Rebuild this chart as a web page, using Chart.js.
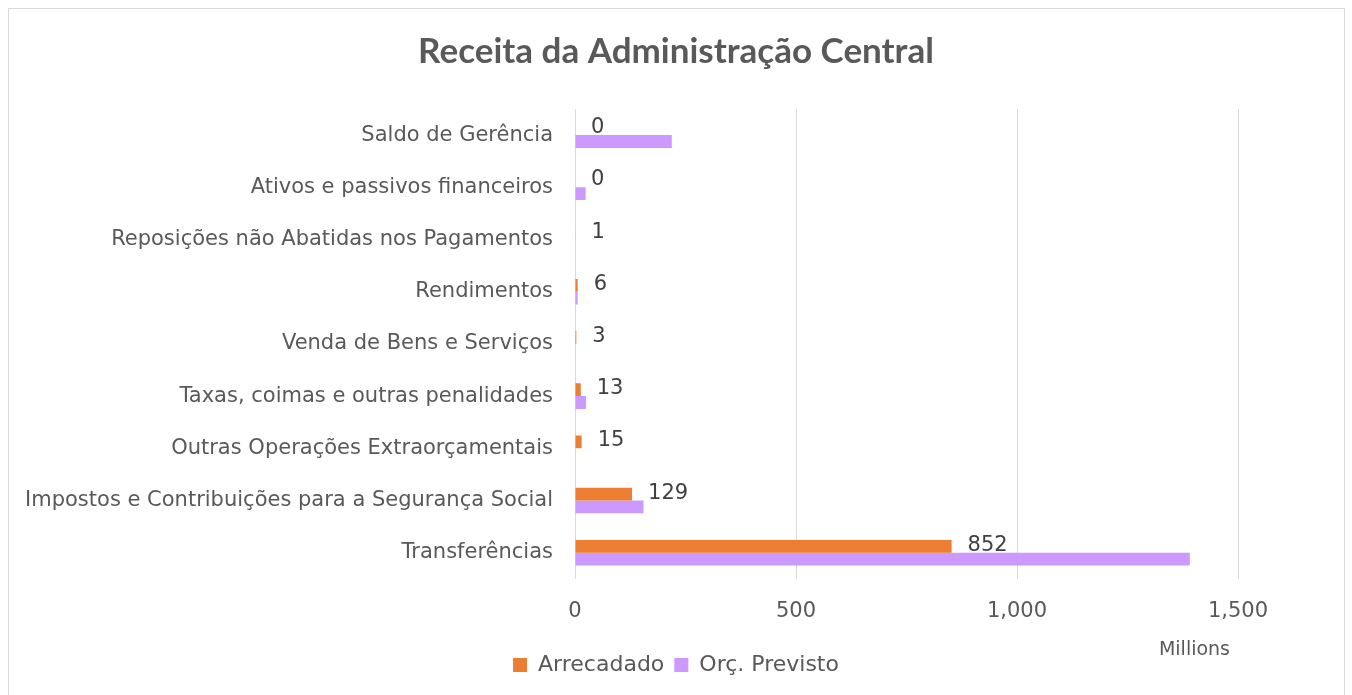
<!DOCTYPE html>
<html>
<head>
<meta charset="utf-8">
<script src="https://cdn.jsdelivr.net/npm/chart.js@4.4.1/dist/chart.umd.min.js"></script>
<style>
  html, body { margin: 0; padding: 0; background: #ffffff; }
  #wrap { width: 1352px; height: 695px; position: relative; }
</style>
</head>
<body>
<div id="wrap"><canvas id="chart" width="1352" height="695"></canvas></div>
<script>
const categories = [
    'Saldo de Gerência',
    'Ativos e passivos financeiros',
    'Reposições não Abatidas nos Pagamentos',
    'Rendimentos',
    'Venda de Bens e Serviços',
    'Taxas, coimas e outras penalidades',
    'Outras Operações Extraorçamentais',
    'Impostos e Contribuições para a Segurança Social',
    'Transferências'
]
// values in millions
const arrecadado = [0, 0, 1, 6, 3, 13, 15, 129, 852]
const previsto = [219, 24, 0, 6, 1, 25, 0, 155, 1391]
const xTicks = [0, 500, 1000, 1500]

const textColor = '#595959'
const fontFamily = "'DejaVu Sans', sans-serif"

// draws the Arrecadado value to the right of its bar
const valueLabels = {
    id: 'valueLabels',
    afterDatasetsDraw(chart){
        const ctx = chart.ctx
        const meta = chart.getDatasetMeta(0)
        ctx.save()
        ctx.font = "21px " + fontFamily
        ctx.fillStyle = '#404040'
        ctx.textAlign = 'left'
        ctx.textBaseline = 'middle'
        meta.data.forEach((bar, i) => {
            ctx.fillText(String(arrecadado[i]), bar.x + 16, bar.y - 1)
        })
        ctx.restore()
    }
}

// outer frame and the "Millions" display unit label
const frame = {
    id: 'frame',
    beforeDraw(chart){
        const ctx = chart.ctx
        ctx.save()
        ctx.strokeStyle = '#d9d9d9'
        ctx.lineWidth = 1
        ctx.strokeRect(8.5, 8.5, 1336, 700)
        ctx.restore()
    },
    afterDraw(chart){
        const ctx = chart.ctx
        const x = chart.scales.x
        ctx.save()
        ctx.font = "19px " + fontFamily
        ctx.fillStyle = textColor
        ctx.textAlign = 'right'
        ctx.textBaseline = 'middle'
        ctx.fillText('Millions', x.right - 8, x.top + 71)
        ctx.restore()
    }
}

const ctx = document.getElementById('chart').getContext('2d')
const chart = new Chart(ctx, {
    type: 'bar',
    data: {
        labels: categories,
        datasets: [
            {
                label: 'Arrecadado',
                data: arrecadado,
                backgroundColor: '#ED7D31',
                borderWidth: 0,
                categoryPercentage: 0.49,
                barPercentage: 1.0,
            },
            {
                label: 'Orç. Previsto',
                data: previsto,
                backgroundColor: '#CC99FF',
                borderWidth: 0,
                categoryPercentage: 0.49,
                barPercentage: 1.0,
            }
        ]
    },
    options: {
        indexAxis: 'y',
        responsive: false,
        animation: false,
        layout: {
            padding: {left: 0, right: 0, top: 0, bottom: 9}
        },
        plugins: {
            title: {
                display: true,
                text: 'Receita da Administração Central',
                color: textColor,
                font: {family: "Lato, sans-serif", size: 35, weight: 'bold'},
                padding: {top: 31, bottom: 36}
            },
            legend: {
                display: true,
                position: 'bottom',
                labels: {
                    color: textColor,
                    font: {family: fontFamily, size: 22},
                    boxWidth: 14,
                    boxHeight: 14,
                    padding: 10
                }
            },
            tooltip: {enabled: false}
        },
        scales: {
            x: {
                min: 0,
                max: 1500,
                afterBuildTicks(scale){
                    scale.ticks = xTicks.map(v => ({value: v}))
                },
                grid: {color: '#d9d9d9', lineWidth: 1, drawTicks: false},
                border: {display: false},
                ticks: {
                    color: textColor,
                    font: {family: fontFamily, size: 21},
                    padding: 20,
                    callback: (v) => v.toLocaleString('en-US')
                }
            },
            y: {
                grid: {display: false, drawTicks: false},
                border: {display: true, color: '#d9d9d9'},
                afterFit(scale){ scale.width = 575 },
                ticks: {
                    color: textColor,
                    font: {family: fontFamily, size: 21},
                    padding: 22,
                    autoSkip: false
                }
            },
            // empty right-hand axis: reserves the blank space right of the plot
            yRight: {
                type: 'category',
                position: 'right',
                grid: {display: false, drawTicks: false},
                border: {display: false},
                ticks: {display: false},
                afterFit(scale){ scale.width = 114 }
            }
        }
    },
    plugins: [valueLabels, frame]
})
</script>
</body>
</html>
